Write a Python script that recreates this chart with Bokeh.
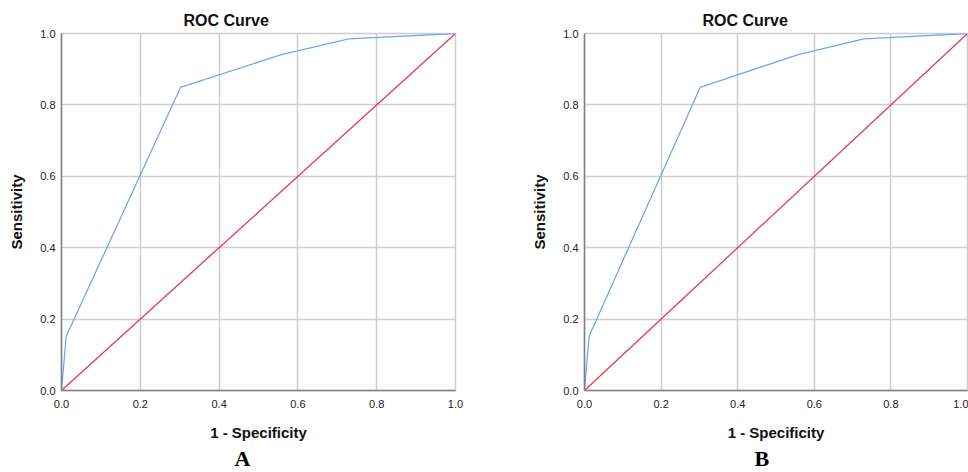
from bokeh.plotting import figure
from bokeh.layouts import row
from bokeh.models import Range1d, FixedTicker, PrintfTickFormatter, Title
from bokeh.embed import file_html
from bokeh.resources import INLINE

# ROC data (same in both panels)
fpr = [0.0, 0.012, 0.302, 0.558, 0.729, 1.0]
tpr = [0.0, 0.152, 0.849, 0.941, 0.985, 1.0]
ref_x = [0.0, 1.0]
ref_y = [0.0, 1.0]
ticks = [0.0, 0.2, 0.4, 0.6, 0.8, 1.0]
panel_labels = ["A", "B"]

SANS = "Liberation Sans"
SERIF = "Liberation Serif"


def make_panel(letter, width, height, ml, mr, mt, mb, title_off, letter_off):
    p = figure(width=width, height=height, output_backend="svg", toolbar_location=None,
               x_range=Range1d(0, 1), y_range=Range1d(0, 1),
               min_border_left=ml, min_border_right=mr, min_border_top=mt, min_border_bottom=mb,
               background_fill_color="white", border_fill_color="white")
    p.title = Title(text="ROC Curve", align="left", offset=title_off, text_font=SANS,
                    text_font_size="16px", text_font_style="bold", text_color="#111111",
                    standoff=10)
    for ax in (p.xaxis[0], p.yaxis[0]):
        ax.ticker = FixedTicker(ticks=ticks)
        ax.formatter = PrintfTickFormatter(format="%.1f")
        ax.axis_line_color = "#808080"
        ax.axis_line_width = 1.5
        ax.major_tick_line_color = None
        ax.minor_tick_line_color = None
        ax.major_tick_out = 0
        ax.major_label_text_font = SANS
        ax.major_label_text_font_size = "11px"
        ax.major_label_text_color = "#222222"
        ax.axis_label_text_font = SANS
        ax.axis_label_text_font_size = "15px"
        ax.axis_label_text_font_style = "bold"
        ax.axis_label_text_color = "#111111"
    p.xaxis.axis_label = "1 - Specificity"
    p.yaxis.axis_label = "Sensitivity"
    p.xaxis.major_label_standoff = 9
    p.yaxis.major_label_standoff = 6
    p.xaxis.axis_label_standoff = 13
    p.yaxis.axis_label_standoff = 12
    p.grid.grid_line_color = "#cdcdcd"
    p.grid.grid_line_width = 1.5
    p.outline_line_color = "#cdcdcd"
    p.outline_line_width = 1.5

    p.line(ref_x, ref_y, line_color="#e3375e", line_width=1.3)
    p.line(fpr, tpr, line_color="#72a8ea", line_width=1.3)

    p.add_layout(Title(text=letter, align="left", offset=letter_off, text_font=SERIF,
                       text_font_size="22px", text_font_style="bold", text_color="#000000",
                       standoff=0), "below")
    return p


pa = make_panel(panel_labels[0], 480, 472, 61, 25, 33, 80, 122, 173)
pb = make_panel(panel_labels[1], 488, 472, 104, 1, 32, 82, 118, 170)

layout = row(pa, pb)
open("out.html", "w").write(file_html(layout, INLINE))
